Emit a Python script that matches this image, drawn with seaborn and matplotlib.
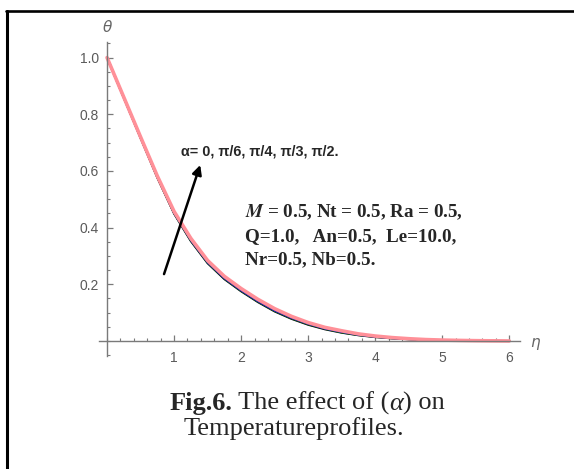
import matplotlib
matplotlib.use("Agg")
import matplotlib.pyplot as plt
from matplotlib.lines import Line2D
from matplotlib.ticker import MultipleLocator, FixedLocator
import seaborn as sns
import pandas as pd

# Temperature profiles theta(eta) for several inclination angles alpha
eta = [0.00, 0.25, 0.50, 0.75, 1.00, 1.25, 1.50, 1.75, 2.00, 2.25, 2.50, 2.75,
       3.00, 3.25, 3.50, 3.75, 4.00, 4.25, 4.50, 4.75, 5.00, 5.25, 5.50, 5.75, 6.00]

theta_a0 = [1.000, 0.858, 0.716, 0.576, 0.449, 0.352, 0.274, 0.218, 0.175, 0.137,
            0.104, 0.078, 0.057, 0.041, 0.029, 0.020, 0.0135, 0.009, 0.006, 0.0038,
            0.0023, 0.0013, 0.0007, 0.0003, 0.000]
theta_a1 = [1.000, 0.858, 0.717, 0.577, 0.450, 0.354, 0.276, 0.220, 0.177, 0.139,
            0.106, 0.080, 0.059, 0.043, 0.030, 0.021, 0.0145, 0.0095, 0.0063, 0.004,
            0.0024, 0.0014, 0.0008, 0.0003, 0.000]
theta_a2 = [1.000, 0.859, 0.718, 0.579, 0.452, 0.356, 0.278, 0.222, 0.179, 0.141,
            0.108, 0.082, 0.061, 0.044, 0.032, 0.022, 0.015, 0.010, 0.0066, 0.0042,
            0.0026, 0.0015, 0.0008, 0.0004, 0.000]
theta_a3 = [1.000, 0.859, 0.719, 0.580, 0.454, 0.359, 0.281, 0.225, 0.182, 0.144,
            0.111, 0.084, 0.063, 0.046, 0.034, 0.024, 0.016, 0.011, 0.007, 0.0045,
            0.0028, 0.0017, 0.0009, 0.0004, 0.000]
theta_a4 = [1.000, 0.860, 0.720, 0.582, 0.457, 0.362, 0.284, 0.228, 0.185, 0.147,
            0.114, 0.087, 0.065, 0.048, 0.036, 0.025, 0.0175, 0.012, 0.008, 0.005,
            0.0032, 0.002, 0.0011, 0.0005, 0.000]

alpha_labels = ["0", "π/6", "π/4", "π/3", "π/2"]
series = [theta_a0, theta_a1, theta_a2, theta_a3, theta_a4]
line_colors = ["#000000", "#1f7a1f", "#0000ee", "#d9303a", "#ff9098"]
line_widths = [1.4, 1.4, 1.4, 1.4, 2.6]

x_ticks = [1, 2, 3, 4, 5, 6]
y_ticks = [0.2, 0.4, 0.6, 0.8, 1.0]
y_tick_labels = ["0.2", "0.4", "0.6", "0.8", "1.0"]

frames = []
for lab, vals in zip(alpha_labels, series):
    frames.append(pd.DataFrame({"eta": eta, "theta": vals, "alpha": lab}))
df = pd.concat(frames, ignore_index=True)

sns.set_style("white")
plt.rcParams["mathtext.fontset"] = "stix"

fig = plt.figure(figsize=(5.74, 4.69), dpi=100)
ax = fig.add_axes([99 / 574, 1 - 356 / 469, 421 / 574, 314 / 469])

for lab, col, lw in zip(alpha_labels, line_colors, line_widths):
    sub = df[df["alpha"] == lab]
    sns.lineplot(data=sub, x="eta", y="theta", color=col, linewidth=lw,
                 ax=ax, legend=False, sort=False)
for ln in ax.lines:
    ln.set_solid_joinstyle("round")

ax.set_xlim(-0.12, 6.16)
ax.set_ylim(-0.053, 1.055)
ax.set_xlabel("")
ax.set_ylabel("")

# Axes crossing at the origin, Mathematica style
axis_gray = "#7a7a7a"
for side in ["top", "right"]:
    ax.spines[side].set_visible(False)
ax.spines["left"].set_position(("data", 0))
ax.spines["bottom"].set_position(("data", 0))
for side in ["left", "bottom"]:
    ax.spines[side].set_color(axis_gray)
    ax.spines[side].set_linewidth(1.0)

ax.xaxis.set_major_locator(FixedLocator(x_ticks))
ax.xaxis.set_minor_locator(MultipleLocator(0.2))
ax.yaxis.set_major_locator(FixedLocator(y_ticks))
ax.yaxis.set_minor_locator(MultipleLocator(0.05))
ax.set_yticklabels(y_tick_labels)
ax.tick_params(axis="both", which="both", direction="in", color=axis_gray,
               labelcolor="#5a5a5a", labelsize=10, bottom=True, left=True)
ax.tick_params(axis="both", which="major", length=4.5, width=0.9)
ax.tick_params(axis="both", which="minor", length=2.5, width=0.8)
ax.tick_params(axis="x", which="both", pad=7)
ax.tick_params(axis="y", which="both", pad=6)
for lbl in ax.get_xticklabels() + ax.get_yticklabels():
    lbl.set_fontfamily("Liberation Sans")

# axis symbols
ax.text(0, 1.105, "θ", ha="center", va="center", fontsize=11, style="italic",
        color="#666666", fontfamily="DejaVu Sans")
ax.text(6.39, -0.007, "η", ha="center", va="center", fontsize=11, style="italic",
        color="#666666", fontfamily="DejaVu Sans")

# arrow showing increasing alpha
ax.annotate("", xy=(1.39, 0.621), xytext=(0.85, 0.236),
            arrowprops=dict(arrowstyle="-|>", color="black", lw=1.8,
                            mutation_scale=14, shrinkA=0, shrinkB=0))
ax.text(1.10, 0.656, "α= 0, π/6, π/4, π/3, π/2.", ha="left", va="baseline",
        fontsize=10.4, fontweight="bold", fontfamily="Liberation Sans")

param_font = dict(fontsize=13.7, fontweight="bold", fontfamily="Liberation Serif",
                  ha="left", va="baseline")
ax.text(2.06, 0.435, r"$\mathbfit{M}$ = 0.5, Nt = 0.5, Ra = 0.5,", **param_font)
ax.text(2.06, 0.352, "Q=1.0,   An=0.5,  Le=10.0,", **param_font)
ax.text(2.06, 0.270, "Nr=0.5, Nb=0.5.", **param_font)

# caption: bold figure number followed by regular text
cap_size = 19
renderer = fig.canvas.get_renderer()
line1_parts = [("Fig.6.", "bold"), (" The effect of (", "normal"),
               ("α", "italic"), (") on", "normal")]
widths = []
for txt, kind in line1_parts:
    t = fig.text(0, 0, txt, fontsize=cap_size, fontfamily="Liberation Serif",
                 fontweight="bold" if kind == "bold" else "normal",
                 style="italic" if kind == "italic" else "normal")
    widths.append(t.get_window_extent(renderer).width)
    t.remove()
x_px = 307 - sum(widths) / 2
for (txt, kind), w in zip(line1_parts, widths):
    fig.text(x_px / 574, 1 - 410 / 469, txt, fontsize=cap_size,
             fontfamily="Liberation Serif", ha="left", va="baseline",
             fontweight="bold" if kind == "bold" else "normal",
             style="italic" if kind == "italic" else "normal")
    x_px += w
fig.text(293.5 / 574, 1 - 435 / 469, "Temperatureprofiles.",
         ha="center", va="baseline", fontsize=cap_size, fontfamily="Liberation Serif")

# frame lines around the figure panel
fig.add_artist(Line2D([6 / 574, 1.0], [1 - 11 / 469, 1 - 11 / 469],
                      color="black", lw=1.9, transform=fig.transFigure))
fig.add_artist(Line2D([7 / 574, 7 / 574], [0.0, 1 - 11 / 469],
                      color="black", lw=2.2, transform=fig.transFigure))

fig.savefig("out.png", dpi=100, facecolor="white")
